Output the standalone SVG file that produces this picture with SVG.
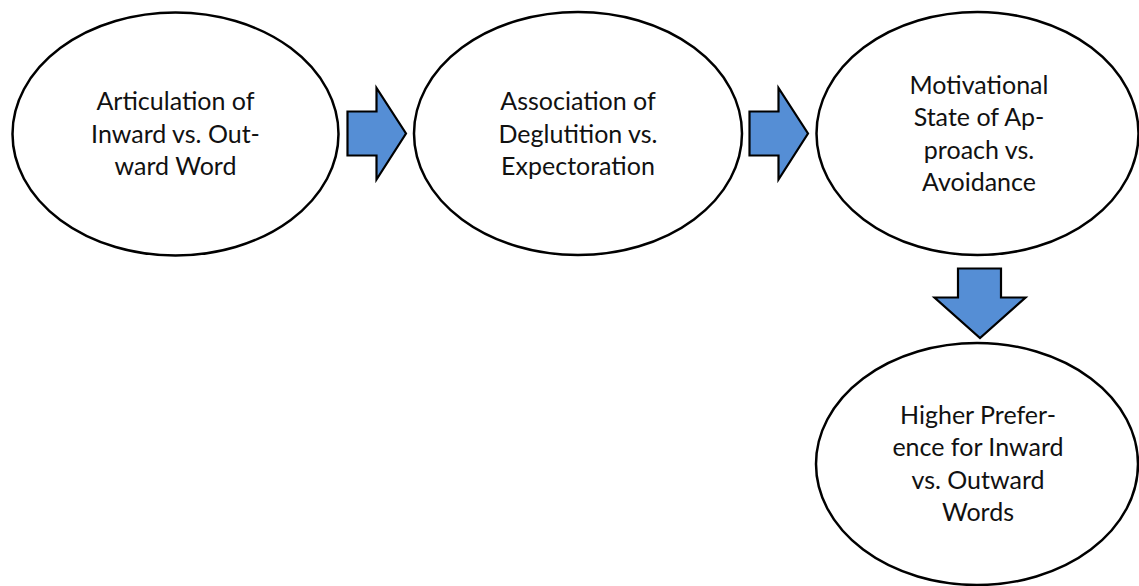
<svg xmlns="http://www.w3.org/2000/svg" width="1139" height="586" viewBox="0 0 1139 586">
  <style>
    .node ellipse { fill: #ffffff; stroke: #000000; stroke-width: 2.5; }
    .node text { font-family: "Lato", "Liberation Sans", sans-serif; font-size: 25px; fill: #111111; text-anchor: middle; }
    .arrow { fill: #558ed5; stroke: #000000; stroke-width: 2.2; stroke-linejoin: miter; }
  </style>
  <rect width="1139" height="586" fill="#ffffff"/>

  <g id="node-articulation" class="node">
    <ellipse cx="175.5" cy="134" rx="163" ry="121.5"/>
    <text x="175.5" y="110">Articulation of</text>
    <text x="175.5" y="142.5">Inward vs. Out-</text>
    <text x="175.5" y="175">ward Word</text>
  </g>

  <g id="node-association" class="node">
    <ellipse cx="578" cy="133.5" rx="164" ry="121.5"/>
    <text x="578" y="110">Association of</text>
    <text x="578" y="142.5">Deglutition vs.</text>
    <text x="578" y="175">Expectoration</text>
  </g>

  <g id="node-motivational" class="node">
    <ellipse cx="977.5" cy="133.5" rx="161" ry="121.5"/>
    <text x="979" y="93.75">Motivational</text>
    <text x="979" y="126.25">State of Ap-</text>
    <text x="979" y="158.75">proach vs.</text>
    <text x="979" y="191.25">Avoidance</text>
  </g>

  <g id="node-preference" class="node">
    <ellipse cx="977" cy="464" rx="161" ry="121"/>
    <text x="978" y="423.75">Higher Prefer-</text>
    <text x="978" y="456.25">ence for Inward</text>
    <text x="978" y="488.75">vs. Outward</text>
    <text x="978" y="521.25">Words</text>
  </g>

  <g id="connectors">
    <!-- block arrows between the stages -->
    <polygon class="arrow" points="347.5,111.5 376.5,111.5 376.5,88 406,133.5 376.5,179.5 376.5,155.5 347.5,155.5"/>
    <polygon class="arrow" points="749.5,111.5 778.5,111.5 778.5,88 808,133.5 778.5,179.5 778.5,155.5 749.5,155.5"/>
    <polygon class="arrow" points="958,268.5 1001,268.5 1001,297.5 1025.5,297.5 980,338 934.5,297.5 958,297.5"/>
  </g>
</svg>
